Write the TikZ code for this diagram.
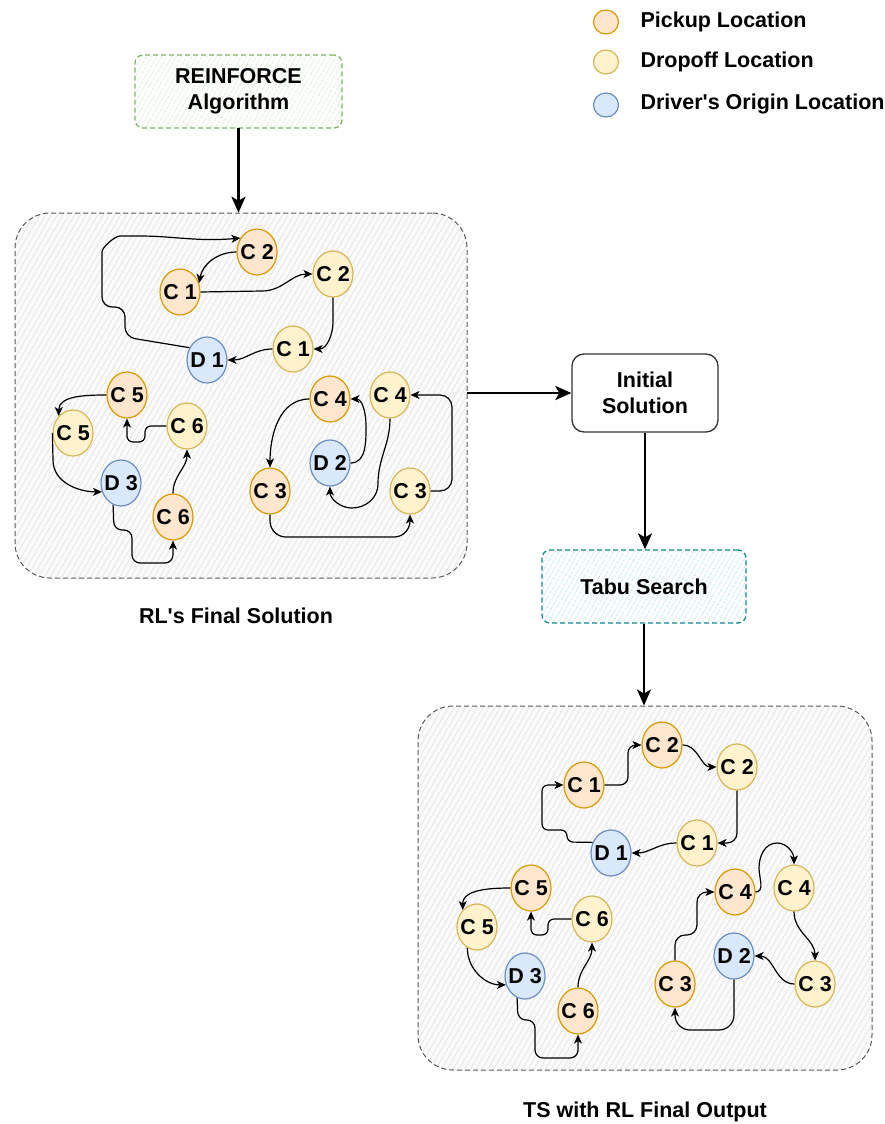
\documentclass[tikz,border=0pt]{standalone}
\usepackage{fontspec}
\setmainfont{Liberation Sans}
\usetikzlibrary{shapes.geometric, arrows.meta, patterns.meta}

\definecolor{pickfill}{HTML}{FFE6CC}
\definecolor{pickline}{HTML}{D79B00}
\definecolor{dropfill}{HTML}{FFF2CC}
\definecolor{dropline}{HTML}{D6B656}
\definecolor{drvfill}{HTML}{DAE8FC}
\definecolor{drvline}{HTML}{6C8EBF}
\definecolor{rlline}{HTML}{82B366}
\definecolor{rlhatch}{HTML}{C3E3B5}
\definecolor{tsline}{HTML}{12888F}
\definecolor{tshatch}{HTML}{9ED9DD}
\definecolor{boxline}{HTML}{5A5A5A}
\definecolor{boxfill}{HTML}{FAFAFA}
\definecolor{boxhatch}{HTML}{DEDEDE}
\definecolor{initline}{HTML}{333333}

\begin{document}
\begin{tikzpicture}[x=1pt,y=-1pt,
  txt/.style={font=\fontsize{21.5}{26}\selectfont\bfseries, align=center},
  loc/.style={ellipse, draw, line width=1.2pt, minimum width=40pt, minimum height=46pt, inner sep=-6pt, txt},
  pick/.style={loc, fill=pickfill, draw=pickline},
  drop/.style={loc, fill=dropfill, draw=dropline},
  drv/.style={loc, fill=drvfill, draw=drvline},
  key/.style={ellipse, draw, line width=1.2pt, minimum width=25pt, minimum height=24pt, inner sep=0pt},
  edge/.style={line width=1.2pt, -{Stealth[length=9pt,width=8pt,inset=2.5pt]}},
  flow/.style={line width=2.7pt, -{Stealth[length=16pt,width=14pt,inset=4pt]}},
  container/.style={draw=boxline, line width=1pt, dash pattern=on 5pt off 3pt, rounded corners=35pt,
    preaction={fill=boxfill}, pattern={Lines[angle=60,distance=5pt,line width=0.5pt]}, pattern color=boxhatch},
  algobox/.style={txt, draw=rlline, line width=1.3pt, dash pattern=on 5pt off 3pt, rounded corners=8pt,
    preaction={fill=white}, pattern={Lines[angle=60,distance=4pt,line width=0.7pt]}, pattern color=rlhatch},
  tabubox/.style={txt, draw=tsline, line width=1.3pt, dash pattern=on 5pt off 3pt, rounded corners=8pt,
    preaction={fill=white}, pattern={Lines[angle=60,distance=4pt,line width=0.7pt]}, pattern color=tshatch},
  initbox/.style={txt, draw=initline, line width=1.3pt, rounded corners=12pt, fill=white}
]
\useasboundingbox[fill=white] (0,0) rectangle (884,1124);

% containers
\node[container, minimum width=452pt, minimum height=365pt] (rlbox) at (241,395.5) {};
\node[container, minimum width=454pt, minimum height=364pt] (tsbox) at (645,888) {};

% process boxes
\node[algobox, minimum width=207pt, minimum height=73pt] (alg) at (238.5,91.5) {REINFORCE\\Algorithm};
\node[initbox, minimum width=146pt, minimum height=78pt] (init) at (645,393) {Initial\\Solution};
\node[tabubox, minimum width=204pt, minimum height=73pt] (tabu) at (644,586.5) {Tabu Search};

% captions
\node[txt] (rlcap) at (236,616) {RL\textquotesingle s Final Solution};
\node[txt] (tscap) at (645,1112) {TS with RL Final Output};

% legend
\node[key, fill=pickfill, draw=pickline] (kp) at (606,22) {};
\node[txt, anchor=west] (kpt) at (637,22) {Pickup Location};
\node[key, fill=dropfill, draw=dropline] (kd) at (606,62) {};
\node[txt, anchor=west] (kdt) at (637,62) {Dropoff Location};
\node[key, fill=drvfill, draw=drvline] (ko) at (606,105) {};
\node[txt, anchor=west] (kot) at (637,104) {Driver\textquotesingle s Origin Location};

% flow arrows
\draw[flow] (alg.south) -- (alg.south |- rlbox.north);
\draw[flow] (rlbox.east |- init.west) -- (init.west);
\draw[flow] (init.south) -- (init.south |- tabu.north);
\draw[flow] (tabu.south) -- (tabu.south |- tsbox.north);

% ---- RL routes ----
\node[pick] (apC2) at (257,252) {C 2};
\node[pick] (apC1) at (180,292) {C 1};
\node[drop] (adC2) at (333,274) {C 2};
\node[drop] (adC1) at (293,349) {C 1};
\node[drv]  (aD1)  at (207,360) {D 1};
\node[pick] (apC5) at (127,395) {C 5};
\node[drop] (adC5) at (73,433) {C 5};
\node[drop] (adC6) at (187,426) {C 6};
\node[drv]  (aD3)  at (121,483) {D 3};
\node[pick] (apC6) at (173,517) {C 6};
\node[pick] (apC4) at (330,399) {C 4};
\node[drop] (adC4) at (390,395) {C 4};
\node[drv]  (aD2)  at (330,463) {D 2};
\node[pick] (apC3) at (270,491) {C 3};
\node[drop] (adC3) at (410,491) {C 3};

\draw[edge, rounded corners=10pt] (aD1.145) -- (125,337) -- (125,307) -- (102,307) -- (102,262)
  to[out=90,in=180] (130,236) to[out=0,in=185] (apC2.140);
\draw[edge] (apC2.west) to[out=180,in=80] (apC1.25);
\draw[edge] (apC1.east) -- (262,291) to[out=0,in=180] (adC2.west);
\draw[edge] (adC2.south) -- (333,322) to[out=-90,in=0] (adC1.east);
\draw[edge] (adC1.west) to[out=180,in=0] (aD1.east);

\draw[edge] (apC5.west) to[out=180,in=90] (adC5.130);
\draw[edge] (adC5.west) -- (53,460) to[out=-90,in=180] (aD3.205);
\draw[edge, rounded corners=8pt] (aD3.250) -- (114,530) -- (132,530) -- (132,563) -- (173,563) -- (apC6.south);
\draw[edge] (apC6.north) to[out=90,in=-90] (adC6.south);
\draw[edge, rounded corners=6pt] (adC6.west) -- (145,426) -- (145,442) -- (127,442) -- (apC5.south);

\draw[edge] (apC4.west) to[out=180,in=90] (apC3.north);
\draw[edge, rounded corners=16pt] (apC3.south) -- (270,537) -- (410,537) -- (adC3.south);
\draw[edge, rounded corners=12pt] (adC3.east) -- (452,491) -- (452,395) -- (adC4.east);
\draw[edge] (adC4.south) to[out=-90,in=90] (378,484) to[out=-90,in=0] (352,508) to[out=180,in=-90] (aD2.south);
\draw[edge] (aD2.east) to[out=0,in=-90] (366,425) to[out=90,in=0] (apC4.east);

% ---- TS routes ----
\node[pick] (bpC1) at (584,785) {C 1};
\node[pick] (bpC2) at (662,745) {C 2};
\node[drop] (bdC2) at (737,767) {C 2};
\node[drop] (bdC1) at (697,843) {C 1};
\node[drv]  (bD1)  at (611,853) {D 1};
\node[pick] (bpC5) at (531,888) {C 5};
\node[drop] (bdC5) at (477,927) {C 5};
\node[drop] (bdC6) at (592,919) {C 6};
\node[drv]  (bD3)  at (525,976) {D 3};
\node[pick] (bpC6) at (578,1011) {C 6};
\node[pick] (bpC4) at (735,892) {C 4};
\node[drop] (bdC4) at (794,888) {C 4};
\node[drv]  (bD2)  at (734,956) {D 2};
\node[pick] (bpC3) at (675,984) {C 3};
\node[drop] (bdC3) at (815,984) {C 3};

\draw[edge, rounded corners=6pt] (bD1.150) -- (567,842) -- (567,830) -- (542,830) -- (542,785) -- (bpC1.west);
\draw[edge, rounded corners=8pt] (bpC1.east) -- (628,785) -- (628,745) -- (bpC2.west);
\draw[edge] (bpC2.east) to[out=0,in=180] (bdC2.west);
\draw[edge, rounded corners=10pt] (bdC2.south) |- (bdC1.east);
\draw[edge] (bdC1.west) to[out=180,in=0] (bD1.east);

\draw[edge] (bpC4.east) to[out=0,in=-90] (759,868) to[out=90,in=180] (777,843) to[out=0,in=90] (bdC4.north);
\draw[edge] (bdC4.south) to[out=-90,in=90] (bdC3.north);
\draw[edge] (bdC3.west) to[out=180,in=0] (bD2.east);
\draw[edge, rounded corners=15pt] (bD2.south) -- (734,1030) -- (675,1030) -- (bpC3.south);
\draw[edge, rounded corners=10pt] (bpC3.north) -- (675,935) -- (697,935) -- (697,892) -- (bpC4.west);

\draw[edge] (bpC5.west) to[out=180,in=90] (bdC5.130);
\draw[edge] (bdC5.245) to[out=-90,in=180] (bD3.205);
\draw[edge, rounded corners=8pt] (bD3.250) -- (518,1020) -- (535,1020) -- (535,1058) -- (578,1058) -- (bpC6.south);
\draw[edge] (bpC6.north) to[out=90,in=-90] (bdC6.south);
\draw[edge, rounded corners=6pt] (bdC6.west) -- (548,919) -- (548,935) -- (531,935) -- (bpC5.south);
\end{tikzpicture}
\end{document}
